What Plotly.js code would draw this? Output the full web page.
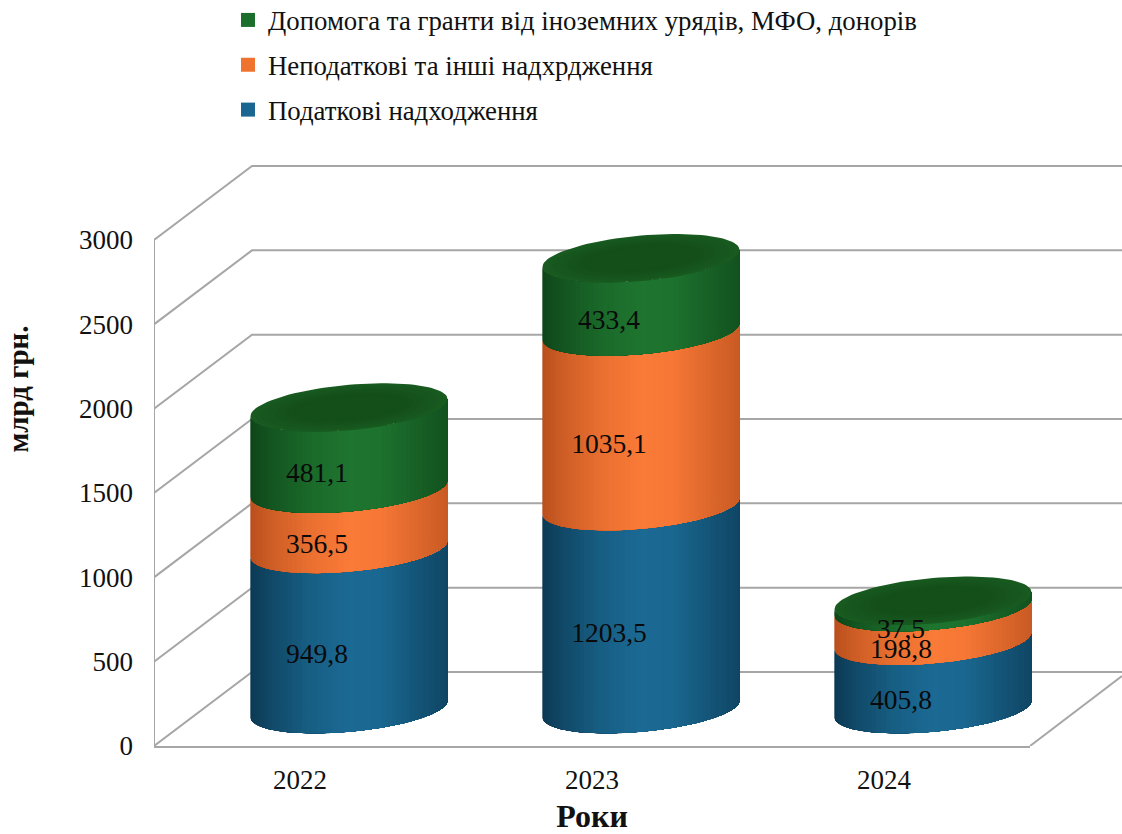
<!DOCTYPE html>
<html>
<head>
<meta charset="utf-8">
<script src="https://cdn.plot.ly/plotly-3.0.1.min.js"></script>
<style>html,body{margin:0;padding:0;background:#fff}#c{width:1122px;height:834px}</style>
</head>
<body>
<div id="c"></div>
<script>
// ---- data ----
const years = ['2022', '2023', '2024'];
const taxRevenue = [949.8, 1203.5, 405.8];
const nonTaxRevenue = [356.5, 1035.1, 198.8];
const grantsRevenue = [481.1, 433.4, 37.5];
const seriesNames = ['Податкові надходження', 'Неподаткові та інші надхрдження', 'Допомога та гранти від іноземних урядів, МФО, донорів'];
const yTicks = [0, 500, 1000, 1500, 2000, 2500, 3000];

// ---- styling ----
const FONT = '"Liberation Serif", "Times New Roman", serif';
const GRID = '#a6a6a6';
const LIGHT = ['#1b6a94', '#fa7a37', '#1e752f'];
const DARK = ['#0c3a54', '#b9501d', '#0f461a'];
const SWATCH = ['#1a6690', '#f0722f', '#1b6e2b'];

// ---- geometry of the oblique projection, in pixels ----
const ML = 154, MT = 32, MB = 88, W = 1122, H = 834;
const frontW = 876;                 // width of the front axis
const plotW = W - ML, plotH = H - MT - MB;
const Y0 = 746, Y3000 = 240;
const pxPerUnit = (Y0 - Y3000) / 3000;
const yMax = plotH / pxPerUnit;
const pxPerBand = frontW / years.length;
const X = px => px / pxPerBand;
const Y = px => px / pxPerUnit;
const depthX = X(98), depthY = Y(74);
const cxOff = X(49), cyOff = Y(37), labelX = X(17), labelY = Y(9.5);
const A = X(98.5), B = Y(22.8), TILT = Y(8.5);
const STRIPS = 56;

function mix(a, b, t) {
  const p = c => [1, 3, 5].map(k => parseInt(c.substr(k, 2), 16));
  const A1 = p(a), B1 = p(b);
  return 'rgb(' + A1.map((v, k) => Math.round(v + (B1[k] - v) * t)).join(',') + ')';
}
function shade(u) {
  const stops = [[0, 0], [0.1, 0.3], [0.3, 0.75], [0.5, 1], [0.65, 0.95], [0.85, 0.55], [1, 0.25]];
  for (let k = 1; k < stops.length; k++) {
    if (u <= stops[k][0]) {
      const t = (u - stops[k - 1][0]) / (stops[k][0] - stops[k - 1][0]);
      return stops[k - 1][1] + (stops[k][1] - stops[k - 1][1]) * t;
    }
  }
  return 0.25;
}

const traces = [];
const xLeft = -0.5, xRight = years.length - 0.5;

// walls and floor
const gx = [], gy = [];
yTicks.forEach(v => {
  gx.push(xLeft, xLeft + depthX, xLeft + plotW / pxPerBand, null);
  gy.push(v, v + depthY, v + depthY, null);
});
gx.push(xLeft, xLeft, null, xRight, xRight + X(92));
gy.push(0, 3000, null, 0, Y(70));
traces.push({ x: gx, y: gy, xaxis: 'x2', yaxis: 'y', type: 'scatter', mode: 'lines', hoverinfo: 'skip',
  showlegend: false, line: { color: GRID, width: 2 } });

// cylinders: each strip paints from its left edge to the far right, so later strips cover earlier ones
const stacks = [taxRevenue, nonTaxRevenue, grantsRevenue];
const bottoms = stacks.map((_, s) => years.map((_, i) => {
  let sum = 0; for (let k = 0; k < s; k++) sum += stacks[k][i]; return sum;
}));
stacks.forEach((vals, s) => {
  for (let n = 0; n < STRIPS; n++) {
    const xs = [], ys = [];
    years.forEach((_, i) => {
      const lo = bottoms[s][i], hi = lo + vals[i];
      const frontY = (v, th) => cyOff + v - B * Math.sin(th) + TILT * Math.cos(th);
      const fx = th => i + cxOff + A * Math.cos(th);
      for (let m = n; m <= STRIPS; m++) {
        const th = Math.PI - m * Math.PI / STRIPS;
        xs.push(fx(th)); ys.push(frontY(lo, th));
      }
      for (let m = STRIPS; m >= n; m--) {
        const th = Math.PI - m * Math.PI / STRIPS;
        xs.push(fx(th)); ys.push(frontY(hi, th));
      }
      xs.push(null); ys.push(null);
    });
    const u = (1 - Math.cos(Math.PI * (n + 0.5) / STRIPS)) / 2;
    const col = mix(DARK[s], LIGHT[s], shade(u));
    traces.push({ x: xs, y: ys, xaxis: 'x2', yaxis: 'y', type: 'scatter', mode: 'lines', fill: 'toself', fillcolor: col,
      line: { width: 0 }, hoverinfo: 'skip', showlegend: false });
  }
});

// top caps, slightly darker toward the middle
for (let r = 0; r < 12; r++) {
  const sc = 1 - r * 0.05;
  const col = mix('#185a20', '#144f1a', Math.min(1, r / 8));
  const xs = [], ys = [];
  years.forEach((_, i) => {
    const top = taxRevenue[i] + nonTaxRevenue[i] + grantsRevenue[i];
    for (let k = 0; k <= 96; k++) {
      const th = k * 2 * Math.PI / 96;
      xs.push(i + cxOff + A * sc * Math.cos(th));
      ys.push(cyOff + top + B * sc * Math.sin(th) + TILT * sc * Math.cos(th));
    }
    xs.push(null); ys.push(null);
  });
  traces.push({ x: xs, y: ys, xaxis: 'x2', yaxis: 'y', type: 'scatter', mode: 'lines', fill: 'toself', fillcolor: col,
    line: { width: 0 }, hoverinfo: 'skip', showlegend: false });
}

// data labels
stacks.forEach((vals, s) => {
  traces.push({
    x: years.map((_, i) => i + labelX),
    y: vals.map((v, i) => bottoms[s][i] + v / 2 + labelY),
    text: vals.map(v => v.toFixed(1).replace('.', ',')),
    xaxis: 'x2', yaxis: 'y', type: 'scatter', mode: 'text', textposition: 'middle center', cliponaxis: false,
    textfont: { family: FONT, size: 27.5, color: '#0a0a0a' }, hoverinfo: 'skip', showlegend: false
  });
});

// legend entries (top to bottom); these also carry the front axis with ticks and title
[2, 1, 0].forEach(s => {
  traces.push({ x: [null], y: [null], xaxis: 'x', yaxis: 'y', type: 'scatter', mode: 'markers', name: seriesNames[s],
    legendgroup: 'g' + s, marker: { symbol: 'square', size: 14, color: SWATCH[s] } });
});

const layout = {
  width: W, height: H,
  paper_bgcolor: '#fff', plot_bgcolor: 'rgba(0,0,0,0)',
  font: { family: FONT, color: '#111' },
  margin: { l: ML, r: 0, t: MT, b: MB, autoexpand: false },
  showlegend: true,
  legend: { x: (228 - ML) / plotW, xanchor: 'left', y: (Y0 + 4) / plotH, yanchor: 'top',
    font: { family: FONT, size: 26.8, color: '#111' }, tracegroupgap: 7, itemwidth: 30, bgcolor: 'rgba(0,0,0,0)' },
  xaxis: {
    domain: [0, frontW / plotW], anchor: 'y',
    type: 'linear', range: [xLeft, xRight], tickmode: 'array', tickvals: years.map((_, i) => i), ticktext: years,
    showgrid: false, zeroline: false, showline: true, linecolor: GRID, linewidth: 2, ticks: '',
    tickfont: { family: FONT, size: 27, color: '#111' }, ticklabelstandoff: 9,
    title: { text: '<b>Роки</b>', font: { family: FONT, size: 32, color: '#111' }, standoff: 18 }
  },
  xaxis2: {
    domain: [0, 1], anchor: 'y', visible: false, type: 'linear',
    range: [xLeft, xLeft + plotW / pxPerBand], showgrid: false, zeroline: false
  },
  yaxis: {
    anchor: 'x', range: [0, yMax], tickmode: 'array', tickvals: yTicks, ticktext: yTicks.map(String),
    showgrid: false, zeroline: false, showline: false, ticks: '',
    tickfont: { family: FONT, size: 27, color: '#111' }, ticklabelstandoff: 20,
    title: { text: '<b>млрд грн.</b>', font: { family: FONT, size: 29, color: '#111' }, standoff: 41 }
  }
};
Plotly.newPlot('c', traces, layout, { displayModeBar: false, staticPlot: true });
</script>
</body>
</html>
